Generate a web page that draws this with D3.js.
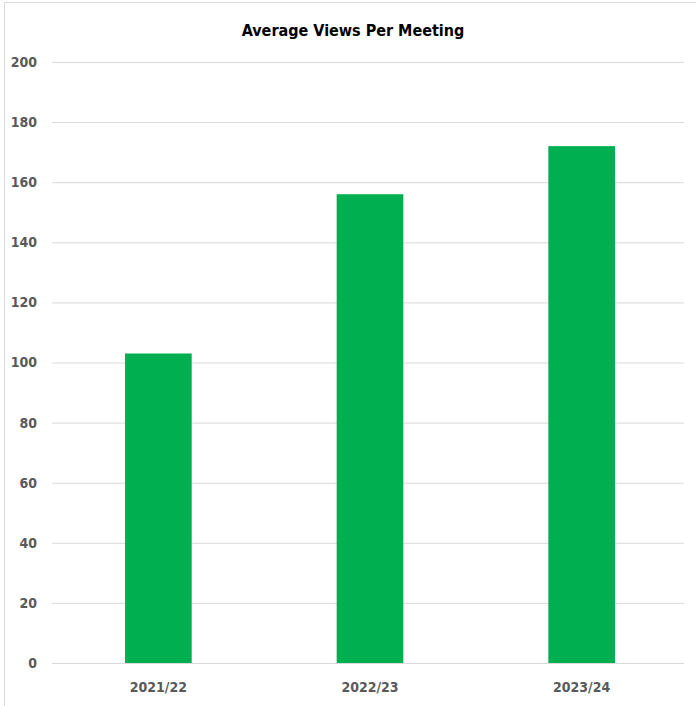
<!DOCTYPE html>
<html>
<head>
<meta charset="utf-8">
<script src="https://cdn.jsdelivr.net/npm/d3@7.9.0/dist/d3.min.js"></script>
<style>
  body { margin: 0; background: #fff; }
  text { font-family: "Liberation Sans Narrow", "DejaVu Sans Condensed", "Open Sans", sans-serif; }
</style>
</head>
<body>
<div id="chart"></div>
<script>
const seasons = ['2021/22', '2022/23', '2023/24'];
const avgViews = [103, 156, 172];
const yTicks = [0, 20, 40, 60, 80, 100, 120, 140, 160, 180, 200];

const width = 696;
const height = 706;
const margin = { top: 62, right: 8, bottom: 43, left: 52 };
const gridRight = 684;

const svg = d3.select('#chart')
  .append('svg')
  .attr('width', width)
  .attr('height', height);

// outer chart border
svg.append('rect')
  .attr('x', 4.5).attr('y', 2.5)
  .attr('width', width + 10).attr('height', height + 10)
  .attr('fill', 'none')
  .attr('stroke', '#d9d9d9');

const x = d3.scaleBand()
  .domain(seasons)
  .range([margin.left, width - margin.right])
  .paddingInner(0.685)
  .paddingOuter(0.345);

const y = d3.scaleLinear()
  .domain([0, 200])
  .range([height - margin.bottom, margin.top]);

// gridlines
svg.append('g')
  .attr('transform', `translate(${margin.left},0)`)
  .call(d3.axisLeft(y).tickValues(yTicks).tickFormat('').tickSize(-(gridRight - margin.left)))
  .call(g => g.select('.domain').remove())
  .call(g => g.selectAll('line').attr('stroke', '#d9d9d9').attr('stroke-width', 1));

// y labels
svg.append('g')
  .attr('transform', `translate(${margin.left},0)`)
  .call(d3.axisLeft(y).tickValues(yTicks).tickSize(0).tickPadding(15))
  .call(g => g.select('.domain').remove())
  .call(g => g.selectAll('text')
    .attr('fill', '#595959')
    .attr('font-size', 14)
    .attr('font-weight', 'bold')
    .style('font-family', '"Liberation Sans Narrow", "DejaVu Sans Condensed", sans-serif'));

// bars
svg.append('g')
  .selectAll('rect')
  .data(seasons)
  .join('rect')
  .attr('x', d => x(d))
  .attr('y', (d, i) => y(avgViews[i]))
  .attr('width', x.bandwidth())
  .attr('height', (d, i) => y(0) - y(avgViews[i]))
  .attr('fill', '#00b050');

// x labels
svg.append('g')
  .attr('transform', `translate(0,${height - margin.bottom})`)
  .call(d3.axisBottom(x).tickSize(0).tickPadding(19))
  .call(g => g.select('.domain').remove())
  .call(g => g.selectAll('text')
    .attr('fill', '#595959')
    .attr('font-size', 14)
    .attr('font-weight', 'bold')
    .style('font-family', '"Liberation Sans Narrow", "DejaVu Sans Condensed", sans-serif'));

// title
svg.append('text')
  .attr('x', 353)
  .attr('y', 36)
  .attr('text-anchor', 'middle')
  .attr('font-size', 16)
  .attr('font-weight', 'bold')
  .attr('fill', '#000')
  .text('Average Views Per Meeting');
</script>
</body>
</html>
